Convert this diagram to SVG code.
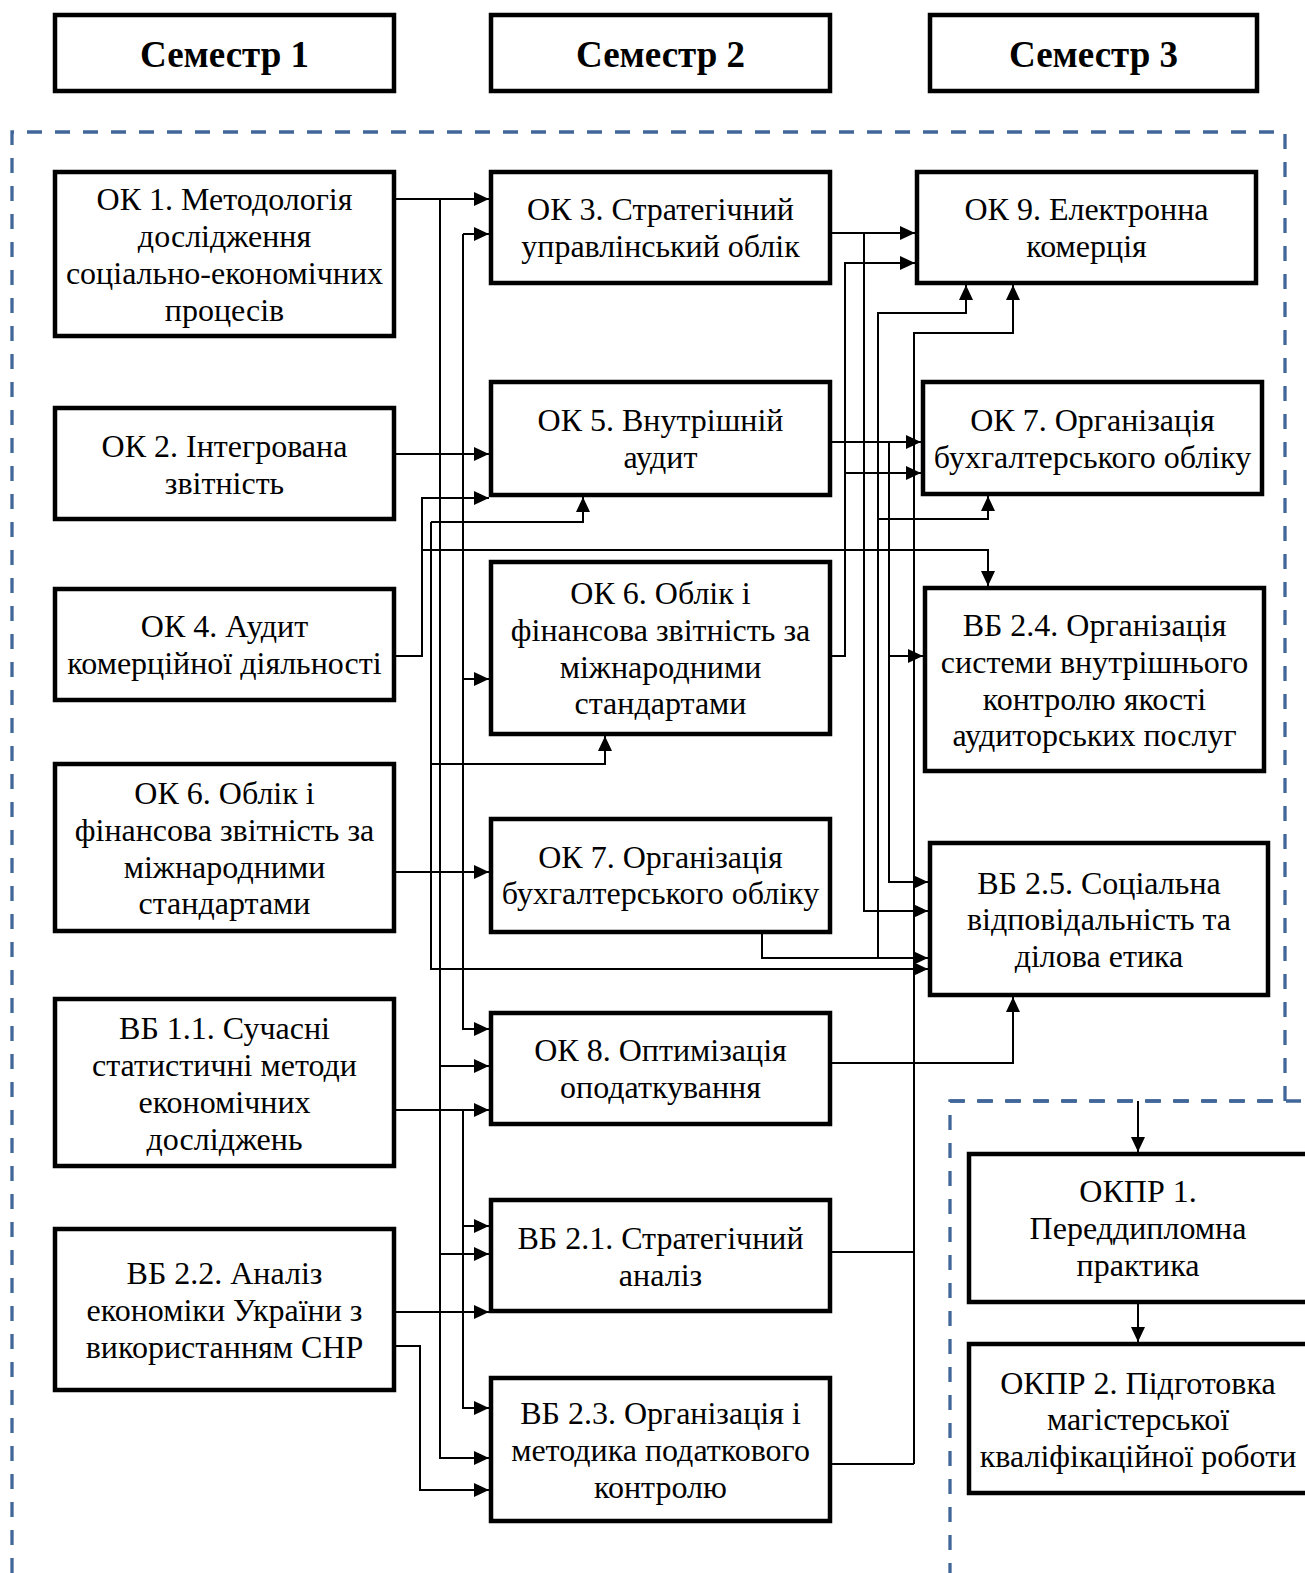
<svg xmlns="http://www.w3.org/2000/svg" width="1305" height="1573" viewBox="0 0 1305 1573">
<style>
.bx{fill:#fff;stroke:#000;stroke-width:4.5}
.t{font-family:"Liberation Serif","Times New Roman",serif;font-size:32px;text-anchor:middle;fill:#000}
.h{font-family:"Liberation Serif","Times New Roman",serif;font-size:37px;font-weight:bold;text-anchor:middle;fill:#000}
.c{fill:none;stroke:#000;stroke-width:2}
.a{marker-end:url(#ar)}
.d{fill:none;stroke:#41679a;stroke-width:3.3;stroke-dasharray:15 13}
</style>
<defs>
<marker id="ar" markerUnits="userSpaceOnUse" markerWidth="15" markerHeight="14" refX="15" refY="7" orient="auto">
<path d="M0,0 L15,7 L0,14 z" fill="#000"/>
</marker>
</defs>
<rect width="1305" height="1573" fill="#fff"/>
<g id="regions">
<path class="d" d="M12,1573 V132 H1285 V1101 H950 V1573"/>
<path class="d" d="M950,1101 H1305"/>
</g>
<g id="connectors">
<path class="c a" d="M396,199 H489"/>
<path class="c a" d="M440,199 V1458 H489"/>
<path class="c a" d="M440,1066 H489"/>
<path class="c a" d="M440,1254 H489"/>
<path class="c a" d="M463,234 H489"/>
<path class="c a" d="M463,234 V1029 H489"/>
<path class="c a" d="M463,679 H489"/>
<path class="c a" d="M396,454 H489"/>
<path class="c a" d="M396,656 H422 V498 H489"/>
<path class="c a" d="M422,550 H988 V586"/>
<path class="c a" d="M431,522 H583 V497"/>
<path class="c a" d="M431,522 V969 H928"/>
<path class="c a" d="M431,764 H605 V736"/>
<path class="c a" d="M396,872 H489"/>
<path class="c a" d="M396,1110 H489"/>
<path class="c a" d="M463,1110 V1408 H489"/>
<path class="c a" d="M463,1226 H489"/>
<path class="c a" d="M396,1312 H489"/>
<path class="c a" d="M396,1346 H420 V1490 H489"/>
<path class="c a" d="M832,233 H915"/>
<path class="c a" d="M864,233 V911 H928"/>
<path class="c a" d="M832,656 H845 V263 H915"/>
<path class="c a" d="M845,473 H921"/>
<path class="c a" d="M878,958 V313 H966 V285"/>
<path class="c a" d="M878,519 H988 V496"/>
<path class="c a" d="M762,933 V958 H928"/>
<path class="c a" d="M832,442 H921"/>
<path class="c a" d="M889,442 V882 H928"/>
<path class="c a" d="M889,656 H923"/>
<path class="c a" d="M914,1464 V333 H1013 V285"/>
<path class="c" d="M832,1252 H914"/>
<path class="c" d="M832,1464 H914"/>
<path class="c a" d="M832,1063 H1013 V997"/>
<path class="c a" d="M1138,1101 V1152"/>
<path class="c a" d="M1138,1304 V1342"/>
</g>
<g id="sem1"><rect class="bx" x="55" y="15" width="339" height="76"/><text class="h" x="224.5" y="67">Семестр 1</text></g>
<g id="sem2"><rect class="bx" x="491" y="15" width="339" height="76"/><text class="h" x="660.5" y="67">Семестр 2</text></g>
<g id="sem3"><rect class="bx" x="930" y="15" width="327" height="76"/><text class="h" x="1093.5" y="67">Семестр 3</text></g>
<g id="ok1"><rect class="bx" x="55" y="172" width="339" height="164"/><text class="t"><tspan x="224.5" y="210">ОК 1. Методологія</tspan><tspan x="224.5" y="247">дослідження</tspan><tspan x="224.5" y="284">соціально-економічних</tspan><tspan x="224.5" y="321">процесів</tspan></text></g>
<g id="ok2"><rect class="bx" x="55" y="408" width="339" height="111"/><text class="t"><tspan x="224.5" y="457">ОК 2. Інтегрована</tspan><tspan x="224.5" y="494">звітність</tspan></text></g>
<g id="ok4"><rect class="bx" x="55" y="589" width="339" height="111"/><text class="t"><tspan x="224.5" y="637">ОК 4. Аудит</tspan><tspan x="224.5" y="674">комерційної діяльності</tspan></text></g>
<g id="ok6a"><rect class="bx" x="55" y="764" width="339" height="167"/><text class="t"><tspan x="224.5" y="804">ОК 6. Облік і</tspan><tspan x="224.5" y="841">фінансова звітність за</tspan><tspan x="224.5" y="878">міжнародними</tspan><tspan x="224.5" y="914">стандартами</tspan></text></g>
<g id="vb11"><rect class="bx" x="55" y="999" width="339" height="167"/><text class="t"><tspan x="224.5" y="1039">ВБ 1.1. Сучасні</tspan><tspan x="224.5" y="1076">статистичні методи</tspan><tspan x="224.5" y="1113">економічних</tspan><tspan x="224.5" y="1150">досліджень</tspan></text></g>
<g id="vb22"><rect class="bx" x="55" y="1229" width="339" height="161"/><text class="t"><tspan x="224.5" y="1284">ВБ 2.2. Аналіз</tspan><tspan x="224.5" y="1321">економіки України з</tspan><tspan x="224.5" y="1358">використанням СНР</tspan></text></g>
<g id="ok3"><rect class="bx" x="491" y="172" width="339" height="111"/><text class="t"><tspan x="660.5" y="220">ОК 3. Стратегічний</tspan><tspan x="660.5" y="257">управлінський облік</tspan></text></g>
<g id="ok5"><rect class="bx" x="491" y="382" width="339" height="113"/><text class="t"><tspan x="660.5" y="431">ОК 5. Внутрішній</tspan><tspan x="660.5" y="468">аудит</tspan></text></g>
<g id="ok6b"><rect class="bx" x="491" y="562" width="339" height="172"/><text class="t"><tspan x="660.5" y="604">ОК 6. Облік і</tspan><tspan x="660.5" y="641">фінансова звітність за</tspan><tspan x="660.5" y="678">міжнародними</tspan><tspan x="660.5" y="714">стандартами</tspan></text></g>
<g id="ok7a"><rect class="bx" x="491" y="819" width="339" height="113"/><text class="t"><tspan x="660.5" y="868">ОК 7. Організація</tspan><tspan x="660.5" y="904">бухгалтерського обліку</tspan></text></g>
<g id="ok8"><rect class="bx" x="491" y="1013" width="339" height="111"/><text class="t"><tspan x="660.5" y="1061">ОК 8. Оптимізація</tspan><tspan x="660.5" y="1098">оподаткування</tspan></text></g>
<g id="vb21"><rect class="bx" x="491" y="1200" width="339" height="111"/><text class="t"><tspan x="660.5" y="1249">ВБ 2.1. Стратегічний</tspan><tspan x="660.5" y="1286">аналіз</tspan></text></g>
<g id="vb23"><rect class="bx" x="491" y="1378" width="339" height="143"/><text class="t"><tspan x="660.5" y="1424">ВБ 2.3. Організація і</tspan><tspan x="660.5" y="1461">методика податкового</tspan><tspan x="660.5" y="1498">контролю</tspan></text></g>
<g id="ok9"><rect class="bx" x="917" y="172" width="339" height="111"/><text class="t"><tspan x="1086.5" y="220">ОК 9. Електронна</tspan><tspan x="1086.5" y="257">комерція</tspan></text></g>
<g id="ok7b"><rect class="bx" x="923" y="382" width="339" height="112"/><text class="t"><tspan x="1092.5" y="431">ОК 7. Організація</tspan><tspan x="1092.5" y="468">бухгалтерського обліку</tspan></text></g>
<g id="vb24"><rect class="bx" x="925" y="588" width="339" height="183"/><text class="t"><tspan x="1094.5" y="636">ВБ 2.4. Організація</tspan><tspan x="1094.5" y="673">системи внутрішнього</tspan><tspan x="1094.5" y="710">контролю якості</tspan><tspan x="1094.5" y="746">аудиторських послуг</tspan></text></g>
<g id="vb25"><rect class="bx" x="930" y="843" width="338" height="152"/><text class="t"><tspan x="1099" y="894">ВБ 2.5. Соціальна</tspan><tspan x="1099" y="930">відповідальність та</tspan><tspan x="1099" y="967">ділова етика</tspan></text></g>
<g id="okpr1"><rect class="bx" x="969" y="1154" width="345" height="148"/><text class="t"><tspan x="1138" y="1202">ОКПР 1.</tspan><tspan x="1138" y="1239">Переддипломна</tspan><tspan x="1138" y="1276">практика</tspan></text></g>
<g id="okpr2"><rect class="bx" x="969" y="1344" width="345" height="149"/><text class="t"><tspan x="1138" y="1394">ОКПР 2. Підготовка</tspan><tspan x="1138" y="1430">магістерської</tspan><tspan x="1138" y="1467">кваліфікаційної роботи</tspan></text></g>
</svg>
